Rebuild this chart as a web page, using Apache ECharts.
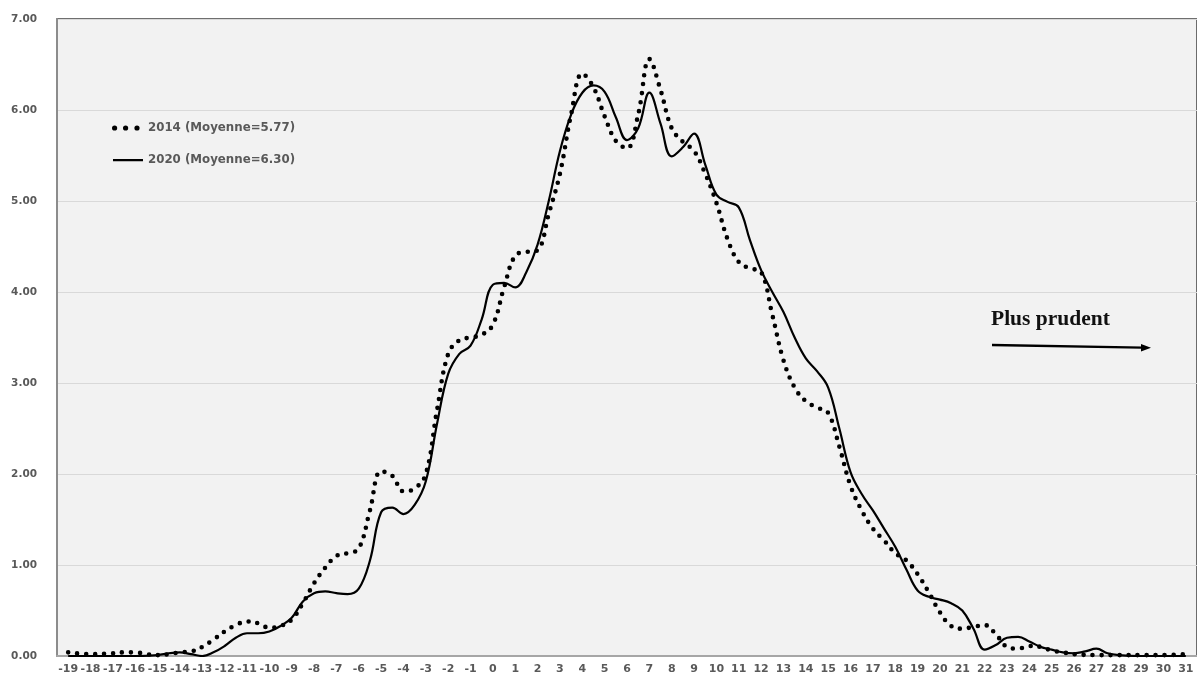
<!DOCTYPE html>
<html>
<head>
<meta charset="utf-8">
<script src="https://cdn.jsdelivr.net/npm/echarts@6/dist/echarts.min.js"></script>
<style>
html,body{margin:0;padding:0;background:#fff;}
#c{width:1197px;height:681px;}
</style>
</head>
<body>
<div id="c"></div>
<script>
// Tick labels on the x axis
var categories = [];
for (var k = -19; k <= 31; k++) categories.push(String(k));

// 2014 series (x, density)
var x2014 = [-19,-18,-17,-16.5,-16,-15.5,-15,-14.5,-14,-13.5,-13,-12.5,-12,-11.5,-11,-10.5,-10,-9.5,-9,-8.5,-8,-7.5,-7,-6.5,-6,-5.5,-5,-4.5,-4,-3.5,-3,-2.5,-2,-1.5,-1,-0.5,0,0.5,1,1.5,2,2.5,3,3.5,4,4.5,5,5.5,6,6.5,7,7.5,8,8.5,9,9.5,10,10.5,11,11.5,12,12.5,13,13.5,14,14.5,15,15.5,16,16.5,17,17.5,18,18.5,19,19.5,20,20.5,21,21.5,22,22.5,23,23.5,24,24.5,25,25.5,26,27,28,29,30,31];
var y2014 = [0.04,0.02,0.03,0.04,0.04,0.02,0.01,0.02,0.04,0.05,0.10,0.18,0.27,0.34,0.38,0.36,0.31,0.33,0.40,0.58,0.80,0.97,1.10,1.13,1.18,1.60,2.03,1.98,1.81,1.84,2.00,2.70,3.32,3.47,3.50,3.53,3.64,4.05,4.40,4.44,4.46,4.86,5.30,5.95,6.40,6.25,5.93,5.66,5.58,5.95,6.56,6.22,5.80,5.65,5.55,5.30,4.98,4.58,4.33,4.26,4.22,3.75,3.25,2.95,2.80,2.73,2.67,2.30,1.87,1.60,1.40,1.27,1.13,1.05,0.90,0.70,0.48,0.33,0.30,0.32,0.34,0.24,0.10,0.08,0.11,0.10,0.06,0.04,0.02,0.01,0.01,0.01,0.01,0.02];

// 2020 series (x, density)
var x2020 = [-19,-18,-17,-16,-15,-14.5,-14,-13.5,-13,-12.5,-12,-11.5,-11,-10.5,-10,-9.5,-9,-8.5,-8,-7.5,-7,-6.5,-6,-5.5,-5,-4.5,-4,-3.5,-3,-2.5,-2,-1.5,-1,-0.5,0,0.5,1,1.5,2,2.5,3,3.5,4,4.5,5,5.5,6,6.5,7,7.5,8,8.5,9,9.5,10,10.5,11,11.5,12,12.5,13,13.5,14,14.5,15,15.5,16,16.5,17,17.5,18,18.5,19,19.5,20,20.5,21,21.5,22,22.5,23,23.5,24,24.5,25,25.5,26,26.5,27,27.5,28,29,30,31];
var y2020 = [0.00,0.00,0.00,0.00,0.01,0.03,0.04,0.02,0.00,0.04,0.11,0.20,0.25,0.25,0.27,0.33,0.42,0.60,0.69,0.71,0.69,0.68,0.74,1.05,1.58,1.63,1.56,1.66,1.92,2.55,3.10,3.32,3.41,3.70,4.08,4.10,4.05,4.22,4.52,5.00,5.55,5.95,6.19,6.27,6.20,5.92,5.67,5.80,6.19,5.85,5.49,5.59,5.74,5.40,5.07,4.99,4.93,4.57,4.24,4.00,3.78,3.50,3.27,3.13,2.95,2.50,2.02,1.78,1.60,1.40,1.20,0.95,0.72,0.65,0.62,0.58,0.50,0.30,0.07,0.12,0.20,0.21,0.16,0.10,0.07,0.04,0.03,0.05,0.08,0.03,0.01,0.00,0.00,0.00];

var seriesNames = ['2014 (Moyenne=5.77)', '2020 (Moyenne=6.30)'];

function pairs(xs, ys){ var o=[]; for (var i=0;i<xs.length;i++) o.push([xs[i], ys[i]]); return o; }

var dotsIcon = 'path://M0,0L0.01,0ZM31,12L31.01,12ZM0,6a2.6,2.6 0 1,0 5.2,0a2.6,2.6 0 1,0 -5.2,0ZM11,6a2.6,2.6 0 1,0 5.2,0a2.6,2.6 0 1,0 -5.2,0ZM22.4,6a2.6,2.6 0 1,0 5.2,0a2.6,2.6 0 1,0 -5.2,0Z';
var lineIcon = 'path://M0,0L0.01,0ZM31,12L31.01,12ZM1,5L31,5L31,7.2L1,7.2Z';

var chart = echarts.init(document.getElementById('c'), null, {renderer:'canvas'});
var labelColor = '#595959';
var font = 'DejaVu Sans';
chart.setOption({
  backgroundColor: '#ffffff',
  animation: false,
  grid: {left: 57, top: 19, right: -6, bottom: 25, show: true, backgroundColor: '#f2f2f2', borderColor: '#404040', borderWidth: 1.5},
  legend: {
    orient: 'vertical', left: 107, top: 117, itemGap: 20, itemWidth: 31, itemHeight: 12,
    textStyle: {fontFamily: font, fontWeight: 'bold', fontSize: 11.8, color: labelColor},
    data: [{name: seriesNames[0], icon: dotsIcon, itemStyle: {color: '#000'}},
           {name: seriesNames[1], icon: lineIcon, itemStyle: {color: '#000'}}]
  },
  xAxis: [
    {type: 'category', data: categories, boundaryGap: true,
     axisLine: {show: true, lineStyle: {color: '#a6a6a6', width: 2}},
     axisTick: {show: false},
     axisLabel: {interval: 0, margin: 8, fontFamily: font, fontWeight: 'bold', fontSize: 11, color: labelColor},
     splitLine: {show: false}},
    {type: 'value', min: -19.5, max: 31.5, show: false}
  ],
  yAxis: {
    type: 'value', min: 0, max: 7, interval: 1,
    axisLine: {show: true, onZero: false, lineStyle: {color: '#8c8c8c', width: 2}},
    axisTick: {show: false},
    axisLabel: {margin: 20, fontFamily: font, fontWeight: 'bold', fontSize: 10.5, color: labelColor,
      formatter: function(v){ return v.toFixed(2); }},
    splitLine: {lineStyle: {color: '#d9d9d9', width: 1}}
  },
  series: [
    {name: seriesNames[0], type: 'line', xAxisIndex: 1, data: pairs(x2014, y2014), smooth: 0.4, symbol: 'none',
     lineStyle: {color: '#000', width: 4.6, type: [0, 9], cap: 'round'}, itemStyle: {color: '#000'}},
    {name: seriesNames[1], type: 'line', xAxisIndex: 1, data: pairs(x2020, y2020), smooth: 0.4, symbol: 'none',
     lineStyle: {color: '#000', width: 2.2}, itemStyle: {color: '#000'}}
  ],
  graphic: [
    {type: 'text', left: 991, top: 308, style: {text: 'Plus prudent', font: 'bold 21.5px "Liberation Serif"', fill: '#111'}},
    {type: 'line', shape: {x1: 992, y1: 345, x2: 1142, y2: 347.6}, style: {stroke: '#000', lineWidth: 2.4}},
    {type: 'polygon', shape: {points: [[1151, 347.8], [1141, 344], [1141, 351.5]]}, style: {fill: '#000'}}
  ]
});
</script>
</body>
</html>
